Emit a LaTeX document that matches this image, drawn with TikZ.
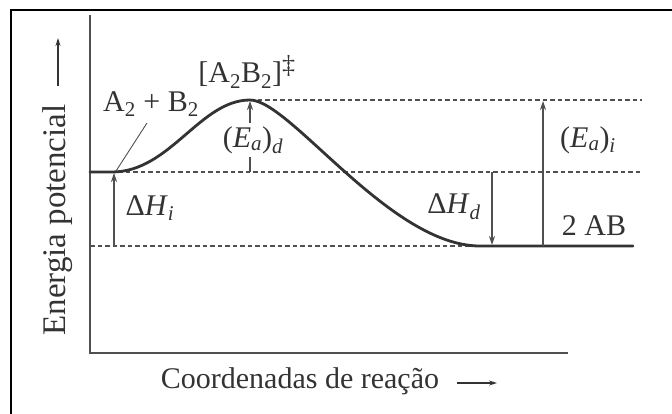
\documentclass[tikz,border=0pt]{standalone}
\usepackage{fontspec}
\setmainfont{Liberation Serif}
\usetikzlibrary{arrows.meta}
\definecolor{ink}{HTML}{333333}
\definecolor{axisgray}{HTML}{505050}
\tikzset{
  lbl/.style={font=\fontsize{30}{34}\selectfont, text=ink, inner sep=1pt},
  dashline/.style={draw=axisgray, line width=1.1pt, dash pattern=on 4.5pt off 3pt},
  dimarrow/.style={draw=axisgray, line width=1.1pt, -{Stealth[length=9pt,width=6pt]}},
  curve/.style={draw=ink, line width=2.8pt, line cap=round},
}
\begin{document}
\begin{tikzpicture}[x=1pt,y=-1pt]
\useasboundingbox (0,0) rectangle (672,414);
% frame (right and bottom edges fall outside the picture)
\draw[black, line width=1.6pt] (11,420) -- (11,10) -- (680,10);
% axes
\coordinate (ytop) at (90,15);
\coordinate (orig) at (90,353);
\coordinate (xend) at (568,353);
\draw[axisgray, line width=1.4pt] (ytop) -- (orig) -- (xend);
% key points
\coordinate (lstart) at (90,172);
\coordinate (lend) at (112,172);
\coordinate (peak) at (250,100);
\coordinate (rstart) at (480,246);
\coordinate (rend) at (633,246);
% dashed guide lines
\coordinate (topend) at (642,100);
\coordinate (midbeg) at (118,172);
\coordinate (midend) at (642,172);
\coordinate (botbeg) at (90,246);
\draw[dashline] (peak) -- (topend);
\draw[dashline] (midbeg) -- (midend);
\draw[dashline] (botbeg) -- (rstart);
% energy curve
\draw[curve] (lstart) -- (lend) .. controls (170,172) and (200,100) .. (peak)
  .. controls (290,100) and (390,246) .. (rstart) -- (rend);
% dimension arrows
\coordinate (dhib) at (114,246);
\coordinate (dhit) at (114,173);
\draw[dimarrow] (dhib) -- (dhit);
\coordinate (eadb) at (250,172);
\coordinate (eadt) at (250,101);
\draw[dimarrow] (eadb) -- (eadt);
\coordinate (dhdt) at (492,172);
\coordinate (dhdb) at (492,245);
\draw[dimarrow] (dhdt) -- (dhdb);
\coordinate (eaib) at (543,246);
\coordinate (eait) at (543,101);
\draw[dimarrow] (eaib) -- (eait);
% labels
\node[lbl] (react) at (151,104) {A\textsubscript{2} + B\textsubscript{2}};
\coordinate (leadtop) at (147,123);
\coordinate (leadbot) at (116,171);
\draw[axisgray, line width=0.9pt] (leadtop) -- (leadbot);
\node[lbl] (ts) at (247,72) {[A\textsubscript{2}B\textsubscript{2}]\textsuperscript{\fontsize{26}{26}\selectfont ‡}};
\node[lbl, fill=white, inner ysep=3pt] (ead) at (253,140) {(\textit{E}\textsubscript{\textit{a}})\textsubscript{\textit{d}}};
\node[lbl] (dhi) at (150,208) {Δ\textit{H}\textsubscript{\textit{i}}};
\node[lbl] (dhd) at (454,207) {Δ\textit{H}\textsubscript{\textit{d}}};
\node[lbl] (eai) at (588,140) {(\textit{E}\textsubscript{\textit{a}})\textsubscript{\textit{i}}};
\node[lbl] (prod) at (594,226) {2 AB};
% axis titles
\node[lbl, font=\fontsize{33}{36}\selectfont, rotate=90] (ylab) at (58,220) {Energia potencial};
\coordinate (yarb) at (58,86);
\coordinate (yart) at (58,38);
\draw[ink, line width=1.1pt, -{Stealth[length=8pt,width=5pt]}] (yarb) -- (yart);
\node[lbl] (xlab) at (300,381) {Coordenadas de reação};
\coordinate (xarb) at (457,383);
\coordinate (xare) at (497,383);
\draw[ink, line width=1.1pt, -{Stealth[length=8pt,width=5pt]}] (xarb) -- (xare);
\end{tikzpicture}
\end{document}
